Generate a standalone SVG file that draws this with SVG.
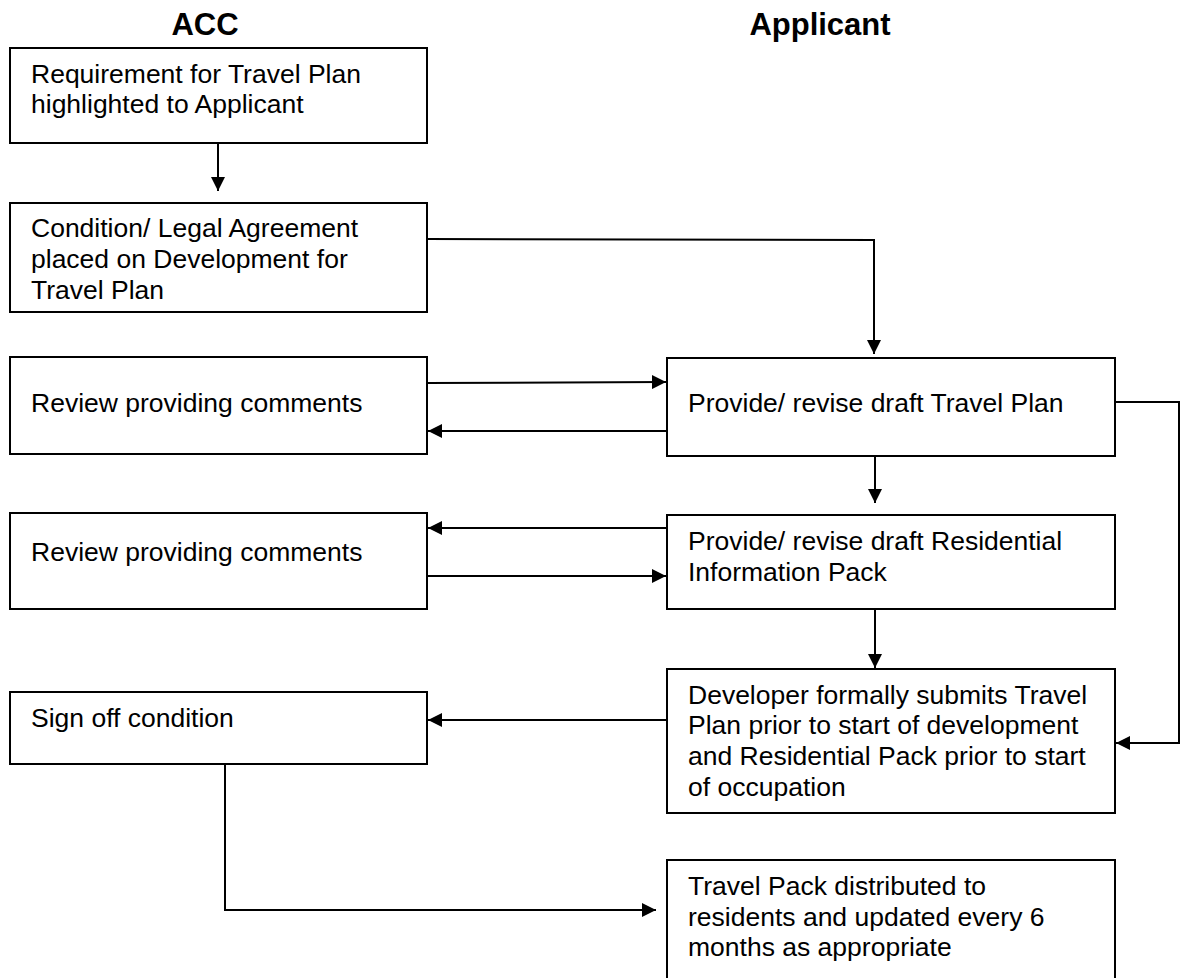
<svg xmlns="http://www.w3.org/2000/svg" width="1181" height="978" viewBox="0 0 1181 978">
<style>
  .box { fill: #ffffff; stroke: #000000; stroke-width: 2; }
  .t { font-family: "Liberation Sans", Arial, sans-serif; font-size: 26.5px; fill: #000000; }
  .h { font-family: "Liberation Sans", Arial, sans-serif; font-size: 31px; font-weight: bold; fill: #000000; text-anchor: middle; }
  .c { fill: none; stroke: #000000; stroke-width: 2; marker-end: url(#ah); }
  .cn { fill: none; stroke: #000000; stroke-width: 2; }
</style>
<defs>
  <marker id="ah" markerUnits="userSpaceOnUse" markerWidth="14" markerHeight="14" refX="14" refY="7" orient="auto">
    <path d="M0,0 L14,7 L0,14 Z" fill="#000000"/>
  </marker>
</defs>
<rect width="1181" height="978" fill="#ffffff"/>
<g id="headers">
  <text class="h" x="205" y="35">ACC</text>
  <text class="h" x="820" y="35">Applicant</text>
</g>
<g id="connectors">
  <path class="c" d="M218,143 L218,191"/>
  <path class="c" d="M427,239 L874,240 L874,354"/>
  <path class="c" d="M427,383 L666,382"/>
  <path class="c" d="M666,431 L428,431"/>
  <path class="c" d="M875,456 L875,503"/>
  <path class="c" d="M666,528 L428,528"/>
  <path class="c" d="M427,576 L666,576"/>
  <path class="c" d="M875,609 L875,668"/>
  <path class="c" d="M1114,402 L1179,402 L1179,743 L1116,743"/>
  <path class="c" d="M666,720 L428,720"/>
  <path class="c" d="M225,764 L225,910 L656,910"/>
</g>
<g id="n1">
  <rect class="box" x="10" y="48" width="417" height="95"/>
  <text class="t" x="31" y="83">Requirement for Travel Plan</text>
  <text class="t" x="31" y="113">highlighted to Applicant</text>
</g>
<g id="n2">
  <rect class="box" x="10" y="203" width="417" height="109"/>
  <text class="t" x="31" y="237">Condition/ Legal Agreement</text>
  <text class="t" x="31" y="268">placed on Development for</text>
  <text class="t" x="31" y="299">Travel Plan</text>
</g>
<g id="n3">
  <rect class="box" x="10" y="357" width="417" height="97"/>
  <text class="t" x="31" y="412">Review providing comments</text>
</g>
<g id="n4">
  <rect class="box" x="667" y="358" width="448" height="98"/>
  <text class="t" x="688" y="412">Provide/ revise draft Travel Plan</text>
</g>
<g id="n5">
  <rect class="box" x="10" y="513" width="417" height="96"/>
  <text class="t" x="31" y="561">Review providing comments</text>
</g>
<g id="n6">
  <rect class="box" x="667" y="515" width="448" height="94"/>
  <text class="t" x="688" y="550">Provide/ revise draft Residential</text>
  <text class="t" x="688" y="581">Information Pack</text>
</g>
<g id="n7">
  <rect class="box" x="10" y="692" width="417" height="72"/>
  <text class="t" x="31" y="727">Sign off condition</text>
</g>
<g id="n8">
  <rect class="box" x="667" y="669" width="448" height="144"/>
  <text class="t" x="688" y="704">Developer formally submits Travel</text>
  <text class="t" x="688" y="734">Plan prior to start of development</text>
  <text class="t" x="688" y="765">and Residential Pack prior to start</text>
  <text class="t" x="688" y="796">of occupation</text>
</g>
<g id="n9">
  <rect class="box" x="667" y="860" width="448" height="140"/>
  <text class="t" x="688" y="895">Travel Pack distributed to</text>
  <text class="t" x="688" y="926">residents and updated every 6</text>
  <text class="t" x="688" y="956">months as appropriate</text>
</g>
</svg>
